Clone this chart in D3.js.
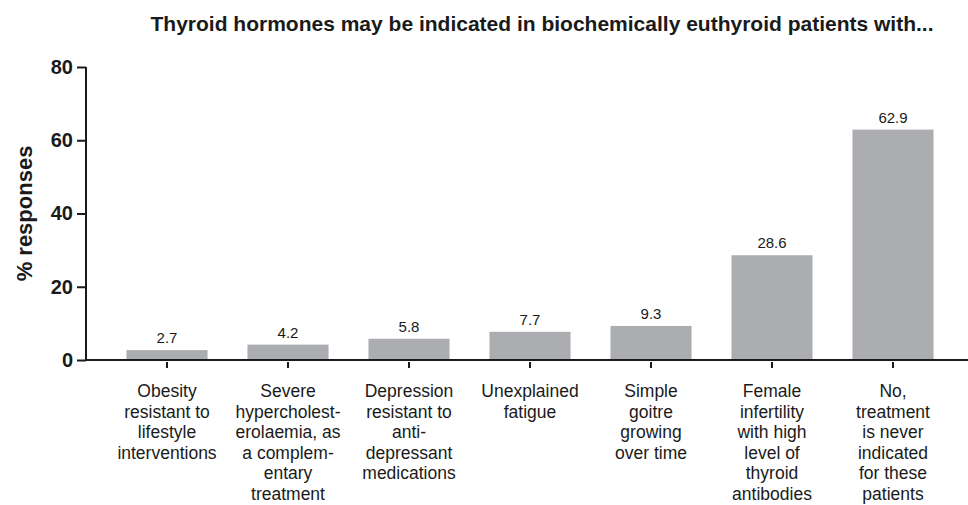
<!DOCTYPE html>
<html><head><meta charset="utf-8">
<script src="https://cdn.jsdelivr.net/npm/d3@7"></script>
<style>body{margin:0;background:#fff}svg{display:block}text{font-family:"Liberation Sans",Arial,sans-serif;fill:#1a1a1a}</style>
</head><body><svg id="c" width="968" height="505"></svg>
<script>
const categories = [
  ["Obesity","resistant to","lifestyle","interventions"],
  ["Severe","hypercholest-","erolaemia, as","a complem-","entary","treatment"],
  ["Depression","resistant to","anti-","depressant","medications"],
  ["Unexplained","fatigue"],
  ["Simple","goitre","growing","over time"],
  ["Female","infertility","with high","level of","thyroid","antibodies"],
  ["No,","treatment","is never","indicated","for these","patients"]
];
const values = [2.7, 4.2, 5.8, 7.7, 9.3, 28.6, 62.9];
const yTicks = [0, 20, 40, 60, 80];
const title = "Thyroid hormones may be indicated in biochemically euthyroid patients with...";
const yLabel = "% responses";

const svg = d3.select("#c");
const idx = d3.range(values.length);
const x = d3.scaleBand().domain(idx).range([106.5, 953.5]).paddingInner(0.33).paddingOuter(0.165);
const y = d3.scaleLinear().domain([0, 80]).range([360, 67]);

svg.append("text").attr("x", 542).attr("y", 31).attr("text-anchor", "middle")
  .style("font-size", "21px").style("font-weight", "bold").text(title);

svg.selectAll("rect.bar").data(values).join("rect").attr("class","bar")
  .attr("x", (d,i) => x(i)).attr("width", x.bandwidth())
  .attr("y", d => y(d)).attr("height", d => y(0) - y(d)).attr("fill", "#acadb0");

svg.selectAll("text.val").data(values).join("text").attr("class","val")
  .attr("x", (d,i) => x(i) + x.bandwidth()/2).attr("y", d => y(d) - 7)
  .attr("text-anchor","middle").style("font-size","15px").text(d => d.toFixed(1));

// y axis
const yAxis = svg.append("g").attr("transform","translate(86,0)")
  .call(d3.axisLeft(y).tickValues(yTicks).tickSize(9).tickPadding(4).tickFormat(d3.format("d")));
yAxis.select(".domain").attr("stroke","#1a1a1a").attr("stroke-width",2).attr("d","M0,"+y(0)+"V"+y(80));
yAxis.selectAll(".tick line").attr("stroke","#1a1a1a").attr("stroke-width",2);
yAxis.selectAll(".tick text").style("font-size","20px").style("font-weight","bold")
  .style("font-family","Liberation Sans, Arial, sans-serif").attr("fill","#1a1a1a");

// x axis
const xAxis = svg.append("g").attr("transform","translate(0,"+y(0)+")")
  .call(d3.axisBottom(x).tickSize(8).tickFormat(""));
xAxis.select(".domain").attr("stroke","#1a1a1a").attr("stroke-width",2).attr("d","M85,0H968");
xAxis.selectAll(".tick line").attr("stroke","#1a1a1a").attr("stroke-width",2).attr("y1",2);

// category labels
const lab = svg.selectAll("text.cat").data(categories).join("text").attr("class","cat")
  .attr("text-anchor","middle").style("font-size","17.5px")
  .attr("transform",(d,i)=>"translate("+(x(i)+x.bandwidth()/2)+",397)");
lab.selectAll("tspan").data(d=>d).join("tspan").attr("x",0).attr("dy",(d,j)=>j===0?0:20.6).text(d=>d);

svg.append("text").attr("transform","translate(32,"+y(40)+") rotate(-90)").attr("text-anchor","middle")
  .style("font-size","22px").style("font-weight","bold").text(yLabel);
</script></body></html>
